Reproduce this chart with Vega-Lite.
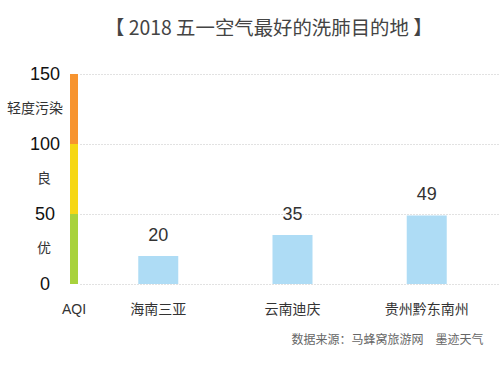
{
  "$schema": "https://vega.github.io/schema/vega-lite/v6.json",
  "autosize": {"type": "pad"},
  "padding": {"left": 7, "top": 18, "right": 0, "bottom": 0},
  "background": "white",
  "title": {
    "text": "【 2018 五一空气最好的洗肺目的地 】",
    "font": "Noto Sans CJK SC",
    "fontSize": 19.4,
    "fontWeight": "normal",
    "color": "#444444",
    "anchor": "start",
    "dx": 98,
    "offset": 26
  },
  "config": {
    "view": {"stroke": null},
    "font": "Noto Sans CJK SC"
  },
  "datasets": {
    "levels": [
      {"level": "优", "lo": 0, "hi": 50, "mid": 25, "axis": "AQI"},
      {"level": "良", "lo": 50, "hi": 100, "mid": 75, "axis": "AQI"},
      {"level": "轻度污染", "lo": 100, "hi": 150, "mid": 125, "axis": "AQI"}
    ],
    "cities": [
      {"city": "海南三亚", "aqi": 20},
      {"city": "云南迪庆", "aqi": 35},
      {"city": "贵州黔东南州", "aqi": 49}
    ]
  },
  "bounds": "flush",
  "spacing": 2,
  "hconcat": [
    {
      "width": 8,
      "height": 210,
      "data": {"name": "levels"},
      "layer": [
        {
          "mark": {"type": "bar"},
          "encoding": {
            "x": {
              "field": "axis", "type": "nominal",
              "scale": {"paddingInner": 0, "paddingOuter": 0},
              "axis": {"title": null, "domain": false, "ticks": false, "labelAngle": 0, "labelFontSize": 14, "labelColor": "#333333", "labelFont": "Liberation Sans", "labelPadding": 18}
            },
            "y": {
              "field": "lo", "type": "quantitative",
              "scale": {"domain": [0, 150], "nice": false},
              "axis": {"title": null, "values": [0, 50, 100, 150], "domain": false, "ticks": false, "tickSize": 0, "grid": false, "labelAlign": "center", "labelPadding": 25.5, "labelFontSize": 18, "labelColor": "#111111", "labelFont": "Liberation Sans", "labelBaseline": "middle"}
            },
            "y2": {"field": "hi"},
            "color": {
              "field": "level", "type": "nominal",
              "scale": {"domain": ["优", "良", "轻度污染"], "range": ["#a8d23c", "#f6d714", "#f7942f"]},
              "legend": null
            }
          }
        },
        {
          "transform": [{"filter": "datum.level !== '轻度污染'"}],
          "mark": {"type": "text", "align": "center", "baseline": "middle", "dx": -30, "fontSize": 14, "color": "#333333", "font": "Noto Sans CJK SC"},
          "encoding": {
            "x": {"field": "axis", "type": "nominal"},
            "y": {"field": "mid", "type": "quantitative"},
            "text": {"field": "level"}
          }
        },
        {
          "transform": [{"filter": "datum.level === '轻度污染'"}],
          "mark": {"type": "text", "align": "right", "baseline": "middle", "dx": -11, "fontSize": 14, "color": "#333333", "font": "Noto Sans CJK SC"},
          "encoding": {
            "x": {"field": "axis", "type": "nominal"},
            "y": {"field": "mid", "type": "quantitative"},
            "text": {"field": "level"}
          }
        }
      ]
    },
    {
      "width": 425,
      "height": 210,
      "data": {"name": "cities"},
      "encoding": {
        "x": {
          "field": "city", "type": "nominal", "sort": null,
          "scale": {"paddingInner": 0.702, "paddingOuter": 0.434},
          "axis": {
            "title": "数据来源：马蜂窝旅游网　墨迹天气",
            "titleFontSize": 12, "titleFontWeight": "normal", "titleColor": "#666666", "titleFont": "Noto Sans CJK SC",
            "titleX": 403, "titleAlign": "right", "titleY": 50,
            "domain": false, "ticks": false, "labelAngle": 0, "labelFontSize": 14, "labelColor": "#333333", "labelFont": "Noto Sans CJK SC", "labelPadding": 18
          }
        },
        "y": {
          "field": "aqi", "type": "quantitative",
          "scale": {"domain": [0, 150], "nice": false},
          "axis": {"title": null, "values": [0, 50, 100, 150], "labels": false, "ticks": false, "domain": false, "grid": true, "gridDash": [1, 2], "gridColor": "#c4c4c4", "gridWidth": 1}
        }
      },
      "layer": [
        {"mark": {"type": "bar", "color": "#aedcf5"}},
        {
          "mark": {"type": "text", "baseline": "alphabetic", "dy": -15, "fontSize": 18, "color": "#333333", "font": "Liberation Sans"},
          "encoding": {"text": {"field": "aqi", "type": "quantitative"}}
        }
      ]
    }
  ]
}
